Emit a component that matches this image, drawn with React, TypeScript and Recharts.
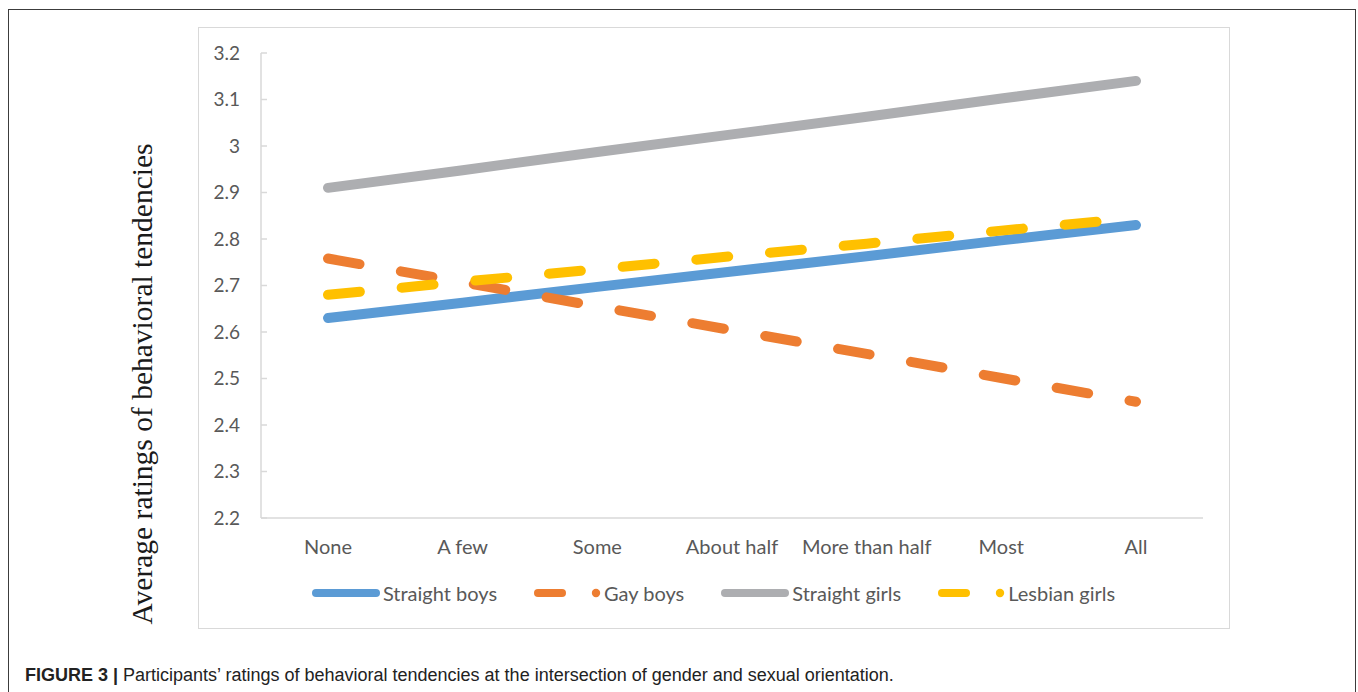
import { LineChart, Line, XAxis, YAxis } from 'recharts'

// Mean ratings per exposure level, one array per group
const categories = ['None', 'A few', 'Some', 'About half', 'More than half', 'Most', 'All']
const straightBoys = [2.63, 2.663, 2.697, 2.73, 2.763, 2.797, 2.83]
const gayBoys = [2.758, 2.707, 2.655, 2.604, 2.553, 2.501, 2.45]
const straightGirls = [2.91, 2.948, 2.987, 3.025, 3.063, 3.102, 3.14]
const lesbianGirls = [2.68, 2.708, 2.735, 2.763, 2.79, 2.818, 2.845]
const yTicks = [2.2, 2.3, 2.4, 2.5, 2.6, 2.7, 2.8, 2.9, 3, 3.1, 3.2]

const SERIES = [
    { key: 'straightBoys', name: 'Straight boys', color: '#5B9BD5', dashed: false },
    { key: 'gayBoys', name: 'Gay boys', color: '#ED7D31', dashed: true },
    { key: 'straightGirls', name: 'Straight girls', color: '#ADAEB1', dashed: false },
    { key: 'lesbianGirls', name: 'Lesbian girls', color: '#FFC000', dashed: true },
]

const data = categories.map((category, i) => ({
    category,
    straightBoys: straightBoys[i],
    gayBoys: gayBoys[i],
    straightGirls: straightGirls[i],
    lesbianGirls: lesbianGirls[i],
}))

const AXIS_COLOR = '#D9D9D9'
const TEXT_COLOR = '#595959'
const TICK_FONT = 'Lato, "Open Sans", sans-serif'

const LegendRow = () => (
    <div
        style={{
            position: 'absolute',
            left: 198,
            top: 580,
            width: 1031,
            height: 26,
            display: 'flex',
            justifyContent: 'center',
            alignItems: 'center',
            gap: 37,
            fontFamily: TICK_FONT,
            fontSize: 20,
            color: TEXT_COLOR,
        }}
    >
        {SERIES.map(s => (
            <div key={s.key} style={{ display: 'flex', alignItems: 'center' }}>
                <svg width={70} height={12} style={{ display: 'block' }}>
                    {s.dashed ? (
                        <>
                            <line x1={4} y1={6} x2={28} y2={6} stroke={s.color} strokeWidth={8} strokeLinecap="round" />
                            <circle cx={62} cy={6} r={4.2} fill={s.color} />
                        </>
                    ) : (
                        <line x1={4} y1={6} x2={64} y2={6} stroke={s.color} strokeWidth={8} strokeLinecap="round" />
                    )}
                </svg>
                <span style={{ marginLeft: s.dashed ? 0 : 1 }}>{s.name}</span>
            </div>
        ))}
    </div>
)

export default function App() {
    return (
        <div style={{ position: 'absolute', left: 0, top: 0, width: 1358, height: 692, background: '#fff', overflow: 'hidden' }}>
            {/* figure frame and chart frame */}
            <div style={{ position: 'absolute', left: 8, top: 9, width: 1346, height: 700, border: '1px solid #3c3c3c' }} />
            <div style={{ position: 'absolute', left: 198, top: 27, width: 1030, height: 600, border: `1.5px solid ${AXIS_COLOR}` }} />

            <div style={{ position: 'absolute', left: 0, top: 0 }}>
                <LineChart width={1358} height={692} data={data} margin={{ top: 53, right: 155, bottom: 134, left: 201 }}>
                    <XAxis
                        dataKey="category"
                        height={40}
                        interval={0}
                        padding={{ left: 67, right: 67 }}
                        axisLine={{ stroke: AXIS_COLOR, strokeWidth: 1.5 }}
                        tickLine={false}
                        tickMargin={16}
                        tick={{ fill: TEXT_COLOR, fontSize: 20, fontFamily: TICK_FONT }}
                    />
                    <YAxis
                        width={60}
                        domain={[2.2, 3.2]}
                        ticks={yTicks}
                        allowDataOverflow
                        axisLine={{ stroke: AXIS_COLOR, strokeWidth: 1.5 }}
                        tickLine={{ stroke: AXIS_COLOR, strokeWidth: 1.5 }}
                        tickSize={-6}
                        tickMargin={27}
                        tick={{ fill: TEXT_COLOR, fontSize: 19, fontFamily: TICK_FONT }}
                    />
                    {SERIES.map(s => (
                        <Line
                            key={s.key}
                            dataKey={s.key}
                            name={s.name}
                            type="linear"
                            stroke={s.color}
                            strokeWidth={10}
                            strokeLinecap="round"
                            strokeDasharray={s.dashed ? '32 42' : undefined}
                            dot={false}
                            activeDot={false}
                            isAnimationActive={false}
                        />
                    ))}
                </LineChart>
            </div>

            <LegendRow />

            <svg width={1358} height={692} style={{ position: 'absolute', left: 0, top: 0, pointerEvents: 'none' }}>
                <text
                    x={152}
                    y={384}
                    transform="rotate(-90, 152, 384)"
                    textAnchor="middle"
                    fontFamily='"Liberation Serif", "DejaVu Serif", serif'
                    fontSize={29.5}
                    fill="#1a1a1a"
                >
                    Average ratings of behavioral tendencies
                </text>
                <text x={25} y={681} fontFamily='"Liberation Sans", Arial, sans-serif' fontSize={18} fill="#222">
                    <tspan fontWeight="bold">FIGURE 3 | </tspan>
                    <tspan>Participants’ ratings of behavioral tendencies at the intersection of gender and sexual orientation.</tspan>
                </text>
            </svg>
        </div>
    )
}
